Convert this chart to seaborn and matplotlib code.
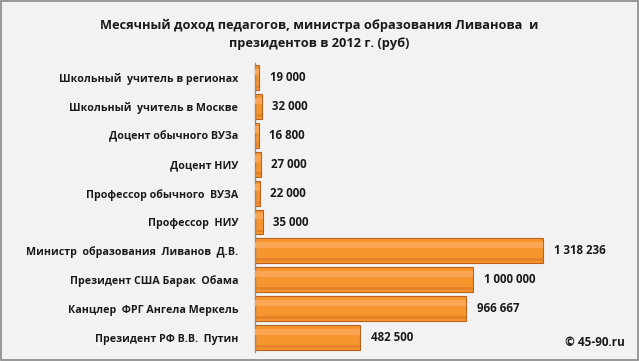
import matplotlib
matplotlib.use("Agg")
import matplotlib.pyplot as plt
import numpy as np
import pandas as pd
import seaborn as sns
from matplotlib.patches import Rectangle

categories = [
    "Школьный  учитель в регионах",
    "Школьный  учитель в Москве",
    "Доцент обычного ВУЗа",
    "Доцент НИУ",
    "Профессор обычного  ВУЗА",
    "Профессор  НИУ",
    "Министр  образования  Ливанов  Д.В.",
    "Президент США Барак  Обама",
    "Канцлер  ФРГ Ангела Меркель",
    "Президент РФ В.В.  Путин",
]
values = [19000, 32000, 16800, 27000, 22000, 35000, 1318236, 1000000, 966667, 482500]
value_labels = ["19 000", "32 000", "16 800", "27 000", "22 000", "35 000",
                "1 318 236", "1 000 000", "966 667", "482 500"]

title = "Месячный доход педагогов, министра образования Ливанова  и\nпрезидентов в 2012 г. (руб)"

sns.set_theme(style="white")
plt.rcParams["font.family"] = ["Open Sans", "DejaVu Sans"]

bg = "#f2f2f2"
df = pd.DataFrame({"cat": categories, "val": values})

fig = plt.figure(figsize=(6.39, 3.61), dpi=100, facecolor=bg)
ax = fig.add_axes([0.399, 0.025, 0.54, 0.80])
ax.set_facecolor(bg)

sns.barplot(data=df, x="val", y="cat", orient="h", color="#f7952f",
            edgecolor="#b9621c", linewidth=0.8, width=0.86, saturation=1, ax=ax)
# soft shading to mimic the bevelled bars
ax.barh(np.arange(len(values)) - 0.2, values, height=0.22, color="#faa654",
        linewidth=0, zorder=3)
ax.barh(np.arange(len(values)) + 0.31, values, height=0.1, color="#e5832a",
        linewidth=0, zorder=3)

ax.set_xlim(0, 1579000)
ax.set_ylim(len(values) - 0.5, -0.5)
ax.set_xlabel("")
ax.set_ylabel("")
ax.set_xticks([])
for s in ["top", "right", "bottom"]:
    ax.spines[s].set_visible(False)
ax.spines["left"].set_color("#8c8c8c")
ax.spines["left"].set_linewidth(1)

ax.set_yticks(np.arange(len(values)))
ax.set_yticklabels(categories, fontsize=7.7, fontweight="bold", color="#1a1a1a")
ax.tick_params(axis="y", which="major", length=0, pad=12)
ax.set_yticks(np.arange(len(values) + 1) - 0.5, minor=True)
ax.tick_params(axis="y", which="minor", length=4, color="#8c8c8c", width=1)

for i, (v, lab) in enumerate(zip(values, value_labels)):
    ax.text(v + 48000, i, lab, va="center", ha="left", fontsize=8.3,
            fontweight="bold", color="#1a1a1a")

fig.text(0.5, 0.905, title, ha="center", va="center", fontsize=9.2,
         fontweight="bold", color="#1a1a1a", linespacing=1.5)
fig.text(0.978, 0.05, "© 45-90.ru", ha="right", va="center", fontsize=8.5,
         fontweight="bold", color="#1a1a1a")

fig.patches.append(Rectangle((0.001, 0.002), 0.997, 0.995, transform=fig.transFigure,
                             fill=False, edgecolor="#888888", linewidth=1.2))

fig.savefig("out.png", dpi=100, facecolor=bg)
